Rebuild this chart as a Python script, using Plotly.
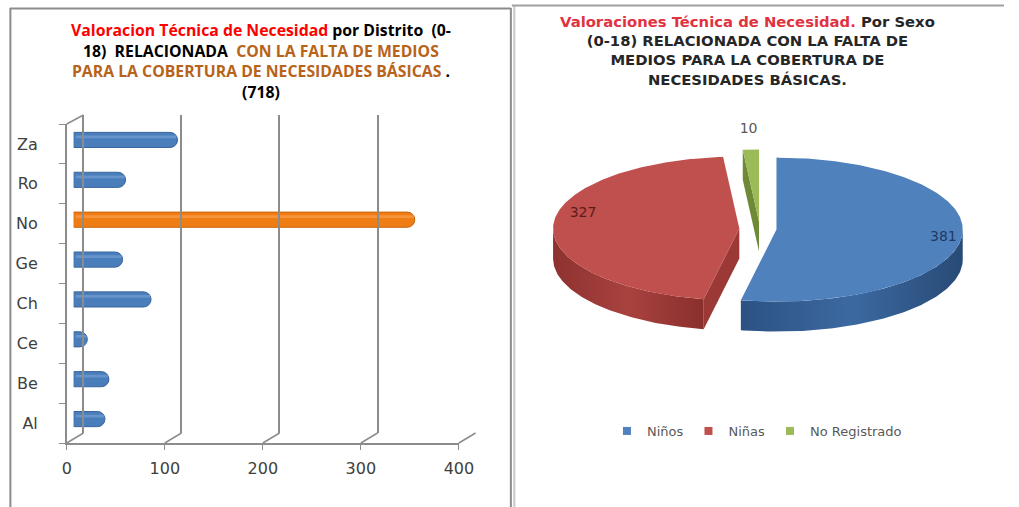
import math
import plotly.graph_objects as go

W, H = 1019, 507

# ---- data -------------------------------------------------------------
districts = ["Al", "Be", "Ce", "Ch", "Ge", "No", "Ro", "Za"]
district_values = [32, 36, 14, 79, 50, 348, 53, 106]
highlight_district = "No"
x_ticks = [0, 100, 200, 300, 400]

sex_labels = ["Niños", "Niñas", "No Registrado"]
sex_values = [381, 327, 10]

# ---- styling ----------------------------------------------------------
AXIS_GREY = "#8C8C8C"
TICK_FONT = dict(family="DejaVu Sans", size=16, color="#404040")
BAR_BLUE, BAR_BLUE_LINE, BAR_BLUE_HI = "#4A7EBB", "#3A679E", "#7FA6D8"
BAR_ORANGE, BAR_ORANGE_LINE, BAR_ORANGE_HI = "#F07D14", "#C8620A", "#FBA860"

slice_top = ["#4F81BD", "#C0504D", "#9BBB59"]
slice_side = [
    [[0, "#2C5283"], [0.5, "#3C69A1"], [1, "#284A76"]],
    [[0, "#8E3230"], [0.5, "#A8423F"], [1, "#8A2F2D"]],
    [[0, "#6E8A36"], [1, "#7F9E40"]],
]
slice_face = ["#2F568A", "#9A3936", "#6E8A36"]
label_colors = ["#1F3A66", "#5A1C1A", "#595959"]
slice_pull = [17, 21, 20]
label_radius = [0.9, 0.84, 1.28]
label_dy = [2, -12, 0]

# pie geometry in pixel units of the overlay axes
CX, CY, RX, RY, DEPTH = 770, 229, 190, 72, 30


def px(x):
    return x / W


def py(y):
    return 1 - y / H


fig = go.Figure()

# ---- bar chart ----------------------------------------------------------
bar_colors = [BAR_ORANGE if d == highlight_district else BAR_BLUE for d in districts]
bar_lines = [BAR_ORANGE_LINE if d == highlight_district else BAR_BLUE_LINE for d in districts]
hi_colors = [BAR_ORANGE_HI if d == highlight_district else BAR_BLUE_HI for d in districts]

fig.add_trace(go.Bar(
    x=district_values, y=districts, orientation="h",
    xaxis="x3", yaxis="y3", width=0.38,
    marker=dict(color=bar_colors, line=dict(color=bar_lines, width=1), cornerradius=8),
    showlegend=False, hoverinfo="x+y",
))
fig.add_trace(go.Bar(
    x=[v - 3 for v in district_values], y=districts, orientation="h",
    xaxis="x3", yaxis="y3", width=0.07, offset=0.04, base=2,
    marker=dict(color=hi_colors, line=dict(width=0), cornerradius=3, opacity=0.55),
    showlegend=False, hoverinfo="skip",
))

# invisible anchors so the front and back axes are drawn
fig.add_trace(go.Scatter(x=[None], y=[None], xaxis="x", yaxis="y", showlegend=False))
fig.add_trace(go.Scatter(x=[None], y=[None], xaxis="x4", yaxis="y4", showlegend=False))

# ---- 3D-look pie drawn on a pixel overlay ---------------------------------
total = sum(sex_values)
starts = []
a = 90.0
for v in sex_values:
    span = 360.0 * v / total
    starts.append((a, a - span))
    a -= span


def offsets(i):
    a0, a1 = starts[i]
    mid = math.radians((a0 + a1) / 2)
    return (slice_pull[i] * math.cos(mid),
            -slice_pull[i] * math.sin(mid) * RY / RX)


def pt(theta, ox, oy, drop=0.0):
    t = math.radians(theta)
    return CX + ox + RX * math.cos(t), CY + oy - RY * math.sin(t) + drop


draw_order = [2, 1, 0]
for i in draw_order:
    a0, a1 = starts[i]
    ox, oy = offsets(i)
    n = 240
    thetas = [a0 + (a1 - a0) * k / n for k in range(n + 1)]

    # radial faces turned toward the viewer
    for edge, normal in ((a0, a0 + 90), (a1, a1 - 90)):
        if math.sin(math.radians(normal)) < -0.01:
            ex, ey = pt(edge, ox, oy)
            cx0, cy0 = CX + ox, CY + oy
            fig.add_trace(go.Scatter(
                x=[cx0, ex, ex, cx0, cx0], y=[cy0, ey, ey + DEPTH, cy0 + DEPTH, cy0],
                xaxis="x2", yaxis="y2", mode="lines", fill="toself",
                fillcolor=slice_face[i], line=dict(width=0),
                showlegend=False, hoverinfo="skip",
            ))

    # outer rim (front half only)
    runs, cur = [], []
    for t in thetas:
        if math.sin(math.radians(t)) <= 0:
            cur.append(t)
        elif cur:
            runs.append(cur)
            cur = []
    if cur:
        runs.append(cur)
    for run in runs:
        top = [pt(t, ox, oy) for t in run]
        bottom = [pt(t, ox, oy, DEPTH) for t in reversed(run)]
        pts = top + bottom + [top[0]]
        fig.add_trace(go.Scatter(
            x=[p[0] for p in pts], y=[p[1] for p in pts],
            xaxis="x2", yaxis="y2", mode="lines", fill="toself",
            fillgradient=dict(type="horizontal", colorscale=slice_side[i]),
            line=dict(width=0), showlegend=False, hoverinfo="skip",
        ))

    # top face
    top = [(CX + ox, CY + oy)] + [pt(t, ox, oy) for t in thetas] + [(CX + ox, CY + oy)]
    fig.add_trace(go.Scatter(
        x=[p[0] for p in top], y=[p[1] for p in top],
        xaxis="x2", yaxis="y2", mode="lines", fill="toself",
        fillcolor=slice_top[i], line=dict(width=0),
        name=sex_labels[i], showlegend=False, hoverinfo="name",
    ))

# value labels
for i, v in enumerate(sex_values):
    a0, a1 = starts[i]
    ox, oy = offsets(i)
    t = math.radians((a0 + a1) / 2)
    lx = CX + ox + label_radius[i] * RX * math.cos(t)
    ly = CY + oy - label_radius[i] * RY * math.sin(t) + label_dy[i]
    fig.add_trace(go.Scatter(
        x=[lx], y=[ly], xaxis="x2", yaxis="y2", mode="text", text=[str(v)],
        textfont=dict(family="DejaVu Sans", size=14, color=label_colors[i]),
        showlegend=False, hoverinfo="skip",
    ))

# legend entries
for i, name in enumerate(sex_labels):
    fig.add_trace(go.Scatter(
        x=[None], y=[None], xaxis="x2", yaxis="y2", mode="markers",
        marker=dict(symbol="square", size=8, color=slice_top[i]),
        name=name, legendrank=i + 1,
    ))

# ---- axes ------------------------------------------------------------
FRONT_X0, BACK_X0, BAR_X0 = 63, 80, 70
FRONT_TOP, FRONT_BOTTOM = 124, 443
BACK_TOP, BACK_BOTTOM = 115, 433

fig.update_layout(
    width=W, height=H, autosize=False,
    margin=dict(l=0, r=0, t=0, b=0),
    paper_bgcolor="white", plot_bgcolor="rgba(0,0,0,0)",
    barmode="overlay",
    xaxis=dict(
        domain=[px(FRONT_X0), px(FRONT_X0 + 400)], range=[0, 400],
        tickvals=x_ticks, ticks="outside", ticklen=5, tickcolor=AXIS_GREY,
        showline=True, linecolor=AXIS_GREY, linewidth=1.5,
        showgrid=False, zeroline=False, tickfont=TICK_FONT, anchor="y",
        ticklabelstandoff=5,
    ),
    yaxis=dict(
        domain=[py(FRONT_BOTTOM), py(FRONT_TOP)], range=[-0.5, len(districts) - 0.5],
        tickvals=list(range(len(districts))), ticktext=districts, ticks="",
        minor=dict(tickvals=[k - 0.5 for k in range(len(districts) + 1)],
                   ticks="outside", ticklen=6, tickcolor=AXIS_GREY, showgrid=False),
        showline=True, linecolor=AXIS_GREY, linewidth=1.5,
        showgrid=False, zeroline=False, tickfont=TICK_FONT, anchor="x",
        ticklabelstandoff=24,
    ),
    xaxis3=dict(
        domain=[px(BAR_X0), px(BAR_X0 + 400)], range=[0, 400],
        visible=False, anchor="y3",
    ),
    yaxis3=dict(
        domain=[py(FRONT_BOTTOM - 4), py(FRONT_TOP - 4)], range=[-0.5, len(districts) - 0.5],
        type="category", categoryorder="array", categoryarray=districts,
        visible=False, anchor="x3",
    ),
    xaxis4=dict(
        domain=[px(BACK_X0), px(BACK_X0 + 400)], range=[0, 400],
        tickvals=x_ticks, showticklabels=False, ticks="",
        showgrid=True, gridcolor=AXIS_GREY, gridwidth=1.5,
        zeroline=True, zerolinecolor=AXIS_GREY, zerolinewidth=1.5,
        showline=False, anchor="y4",
    ),
    yaxis4=dict(
        domain=[py(BACK_BOTTOM), py(BACK_TOP)], range=[0, 1],
        visible=False, showgrid=False, zeroline=False, anchor="x4",
    ),
    xaxis2=dict(domain=[0, 1], range=[0, W], visible=False, anchor="y2"),
    yaxis2=dict(domain=[0, 1], range=[H, 0], visible=False, anchor="x2"),
    legend=dict(
        orientation="h", x=px(767), y=py(431), xanchor="center", yanchor="middle",
        font=dict(family="DejaVu Sans", size=13, color="#595959"),
        bgcolor="rgba(0,0,0,0)", itemwidth=30, tracegroupgap=0,
    ),
)

# perspective connectors between front and back planes
shapes = []
for t in x_ticks:
    shapes.append(dict(
        type="line", xref="paper", yref="paper",
        x0=px(FRONT_X0 + t), y0=py(FRONT_BOTTOM), x1=px(BACK_X0 + t), y1=py(BACK_BOTTOM),
        line=dict(color=AXIS_GREY, width=1.5),
    ))
shapes.append(dict(
    type="line", xref="paper", yref="paper",
    x0=px(FRONT_X0), y0=py(FRONT_TOP), x1=px(BACK_X0), y1=py(BACK_TOP),
    line=dict(color=AXIS_GREY, width=1.5),
))

# panel frames
frame = [
    (5.5, 8, 5.5, H, "#8C8C8C", 2),
    (5, 8.5, 516, 8.5, "#8C8C8C", 2),
    (516, 8, 516, H, "#8C8C8C", 2),
    (519.5, 5, 519.5, H, "#C8C8C8", 2),
    (517, 5.5, W, 5.5, "#A0A0A0", 2),
]
for x0, y0, x1, y1, c, w in frame:
    shapes.append(dict(
        type="line", xref="paper", yref="paper",
        x0=px(x0), y0=py(y0), x1=px(x1), y1=py(y1),
        line=dict(color=c, width=w),
    ))
fig.update_layout(shapes=shapes)

# ---- titles ------------------------------------------------------------
RED, BROWN = "#FF0000", "#B8631A"
NB = "\u00a0"
left_title = "<br>".join([
    f'<span style="color:{RED}">Valoracion Técnica de Necesidad</span> por Distrito{NB} (0-',
    f'18){NB} RELACIONADA{NB} <span style="color:{BROWN}">CON LA FALTA DE MEDIOS</span>',
    f'<span style="color:{BROWN}">PARA LA COBERTURA DE NECESIDADES BÁSICAS</span> .',
    "(718)",
])
right_title = "<br>".join([
    '<span style="color:#E0333F">Valoraciones Técnica de Necesidad.</span> Por Sexo',
    "(0-18) RELACIONADA CON LA FALTA DE",
    "MEDIOS PARA LA COBERTURA DE",
    "NECESIDADES BÁSICAS.",
])

fig.update_layout(annotations=[
    dict(text=f"<b>{left_title}</b>", xref="paper", yref="paper",
         x=px(261), y=py(61), xanchor="center", yanchor="middle", align="center",
         showarrow=False, font=dict(family="Open Sans", size=15.8, color="#000000")),
    dict(text=f"<b>{right_title}</b>", xref="paper", yref="paper",
         x=px(757), y=py(50.5), xanchor="center", yanchor="middle", align="center",
         showarrow=False, font=dict(family="DejaVu Sans", size=14.8, color="#262626")),
])

fig.write_html("out.html")
